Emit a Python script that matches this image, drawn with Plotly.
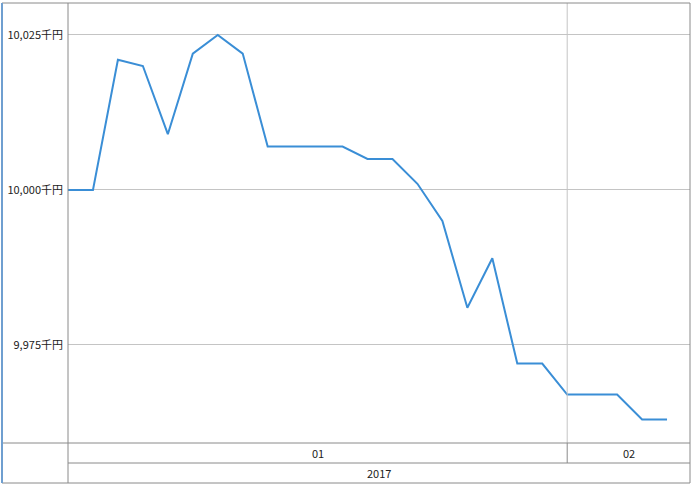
import plotly.graph_objects as go

# ---- data ----
dates = [
    "2017-01-03", "2017-01-04", "2017-01-05", "2017-01-06", "2017-01-10",
    "2017-01-11", "2017-01-12", "2017-01-13", "2017-01-16", "2017-01-17",
    "2017-01-18", "2017-01-19", "2017-01-20", "2017-01-23", "2017-01-24",
    "2017-01-25", "2017-01-26", "2017-01-27", "2017-01-30", "2017-01-31",
    "2017-02-01", "2017-02-02", "2017-02-03", "2017-02-06", "2017-02-07",
]
values = [
    10000, 10000, 10021, 10020, 10009,
    10022, 10025, 10022, 10007, 10007,
    10007, 10007, 10005, 10005, 10001,
    9995, 9981, 9989, 9972, 9972,
    9967, 9967, 9967, 9963, 9963,
]
y_ticks = [9975, 10000, 10025]
y_tick_labels = ["9,975千円", "10,000千円", "10,025千円"]
year_label = "2017"

W, H = 692, 485
L, R, T, B = 68, 2, 3, 42
pw, ph = W - L - R, H - T - B

x_idx = list(range(len(dates)))
x_max = 24.92

LINE = "#3a8ed6"
GRID = "#c4c4c4"
FRAME = "#8a8a8a"
FONT = "Noto Sans CJK JP"

fig = go.Figure()
fig.add_trace(go.Scatter(
    x=x_idx, y=values, mode="lines",
    line=dict(color=LINE, width=2), hoverinfo="skip", showlegend=False,
))

def px_x(X):
    return (X - L) / pw

def px_y(Y):
    return (T + ph - Y) / ph

shapes = []
months = [d[5:7] for d in dates]
bounds = [i for i in range(1, len(months)) if months[i] != months[i - 1]]
for b in bounds:
    shapes.append(dict(type="line", xref="x", yref="paper", x0=b, x1=b, y0=0, y1=1,
                       line=dict(color=GRID, width=1)))
    shapes.append(dict(type="line", xref="x", yref="paper", x0=b, x1=b, y0=0, y1=px_y(463),
                       line=dict(color=FRAME, width=1)))
shapes += [
    dict(type="line", xref="paper", yref="paper", x0=px_x(2), x1=1, y0=0, y1=0, line=dict(color=FRAME, width=1)),
    dict(type="line", xref="paper", yref="paper", x0=0, x1=1, y0=px_y(463), y1=px_y(463), line=dict(color=FRAME, width=1)),
    dict(type="line", xref="paper", yref="paper", x0=px_x(2), x1=1, y0=px_y(483), y1=px_y(483), line=dict(color=FRAME, width=1)),
    dict(type="line", xref="paper", yref="paper", x0=0, x1=0, y0=1, y1=px_y(483), line=dict(color=FRAME, width=1)),
    dict(type="line", xref="paper", yref="paper", x0=1, x1=1, y0=1, y1=px_y(483), line=dict(color=FRAME, width=1)),
    dict(type="line", xref="paper", yref="paper", x0=px_x(2), x1=1, y0=1, y1=1, line=dict(color=FRAME, width=1)),
    dict(type="line", xref="paper", yref="paper", x0=px_x(2), x1=px_x(2), y0=1, y1=px_y(483), line=dict(color="#6f9fd0", width=2)),
]

annotations = []
starts = [0] + bounds
ends = bounds + [x_max]
for s, e in zip(starts, ends):
    annotations.append(dict(x=(s + e) / 2, y=px_y(453), xref="x", yref="paper",
                            text=months[s], showarrow=False,
                            font=dict(family=FONT, size=11, color="#222"),
                            xanchor="center", yanchor="middle"))
annotations.append(dict(x=0.5, y=px_y(473), xref="paper", yref="paper",
                        text=year_label, showarrow=False,
                        font=dict(family=FONT, size=11, color="#222"),
                        xanchor="center", yanchor="middle"))

fig.update_layout(
    width=W, height=H,
    margin=dict(l=L, r=R, t=T, b=B),
    paper_bgcolor="white", plot_bgcolor="white",
    xaxis=dict(range=[0, x_max], showgrid=False, zeroline=False, showticklabels=False,
               ticks="", showline=False, fixedrange=True),
    yaxis=dict(range=[9959.19, 10030.16], tickvals=y_ticks, ticktext=y_tick_labels,
               showgrid=True, gridcolor=GRID, gridwidth=1, zeroline=False, showline=False,
               ticks="", ticklabelstandoff=4,
               tickfont=dict(family=FONT, size=11, color="#222"), fixedrange=True),
    shapes=shapes, annotations=annotations,
    showlegend=False,
)

fig.write_html("out.html", config={"displayModeBar": False},
               post_script="document.body.style.margin='0';document.body.style.overflow='hidden';")
